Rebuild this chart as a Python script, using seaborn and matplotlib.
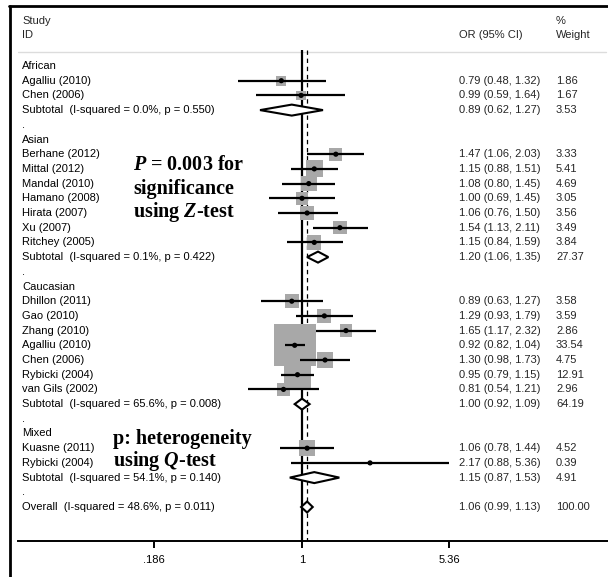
import numpy as np
import pandas as pd
import matplotlib
matplotlib.use("Agg")
import matplotlib.pyplot as plt
from matplotlib.lines import Line2D
from matplotlib.patches import Polygon
from matplotlib.ticker import NullLocator
import seaborn as sns

# ---------------- data ----------------
groups = ["African", "Asian", "Caucasian", "Mixed"]
study_names = ["Agalliu (2010)", "Chen (2006)",
               "Berhane (2012)", "Mittal (2012)", "Mandal (2010)", "Hamano (2008)",
               "Hirata (2007)", "Xu (2007)", "Ritchey (2005)",
               "Dhillon (2011)", "Gao (2010)", "Zhang (2010)", "Agalliu (2010)",
               "Chen (2006)", "Rybicki (2004)", "van Gils (2002)",
               "Kuasne (2011)", "Rybicki (2004)"]
study_group = ["African", "African",
               "Asian", "Asian", "Asian", "Asian", "Asian", "Asian", "Asian",
               "Caucasian", "Caucasian", "Caucasian", "Caucasian", "Caucasian",
               "Caucasian", "Caucasian",
               "Mixed", "Mixed"]
study_or = [0.79, 0.99, 1.47, 1.15, 1.08, 1.00, 1.06, 1.54, 1.15,
            0.89, 1.29, 1.65, 0.92, 1.30, 0.95, 0.81, 1.06, 2.17]
study_lo = [0.48, 0.59, 1.06, 0.88, 0.80, 0.69, 0.76, 1.13, 0.84,
            0.63, 0.93, 1.17, 0.82, 0.98, 0.79, 0.54, 0.78, 0.88]
study_hi = [1.32, 1.64, 2.03, 1.51, 1.45, 1.45, 1.50, 2.11, 1.59,
            1.27, 1.79, 2.32, 1.04, 1.73, 1.15, 1.21, 1.44, 5.36]
study_wt = [1.86, 1.67, 3.33, 5.41, 4.69, 3.05, 3.56, 3.49, 3.84,
            3.58, 3.59, 2.86, 33.54, 4.75, 12.91, 2.96, 4.52, 0.39]

sub_labels = ["Subtotal  (I-squared = 0.0%, p = 0.550)",
              "Subtotal  (I-squared = 0.1%, p = 0.422)",
              "Subtotal  (I-squared = 65.6%, p = 0.008)",
              "Subtotal  (I-squared = 54.1%, p = 0.140)"]
sub_or = [0.89, 1.20, 1.00, 1.15]
sub_lo = [0.62, 1.06, 0.92, 0.87]
sub_hi = [1.27, 1.35, 1.09, 1.53]
sub_wt = [3.53, 27.37, 64.19, 4.91]

overall_label = "Overall  (I-squared = 48.6%, p = 0.011)"
overall_or, overall_lo, overall_hi, overall_wt = 1.06, 0.99, 1.13, 100.00

x_ticks = [0.186, 1.0, 5.36]
x_ticklabels = [".186", "1", "5.36"]

# ---------------- style ----------------
sns.set_theme(style="white")
plt.rcParams["font.family"] = ["Liberation Sans", "DejaVu Sans"]
plt.rcParams["mathtext.fontset"] = "custom"
plt.rcParams["mathtext.rm"] = "Liberation Serif:bold"
plt.rcParams["mathtext.it"] = "Liberation Serif:bold:italic"
FS = 8.0

W, H = 608, 577
fig = plt.figure(figsize=(W / 100, H / 100), dpi=100)
fig.patch.set_facecolor("white")

ax_l, ax_r, ax_t, ax_b = 18, 608, 6, 541
ax = fig.add_axes([ax_l / W, 1 - ax_b / H, (ax_r - ax_l) / W, (ax_b - ax_t) / H])
ax.set_facecolor("white")

x1_px, ppl = 302.0, 87.8          # pixel of OR=1, pixels per ln unit
row0_px, row_h = 66.0, 14.7       # first row pixel, row spacing
ax.set_xscale("log")
ax.set_xlim(np.exp((ax_l - x1_px) / ppl), np.exp((ax_r - x1_px) / ppl))
ax.set_ylim((ax_b - row0_px) / row_h, (ax_t - row0_px) / row_h)


def rpx(px):
    return (px - row0_px) / row_h


def fx(px):
    return (px - ax_l) / (ax_r - ax_l)


tr = ax.get_yaxis_transform()

# ---------------- build rows ----------------
rows_txt = []   # (row, label)
st_rows = []
sub_rows = []
r = 0
si = 0
for gi, g in enumerate(groups):
    rows_txt.append((r, g)); r += 1
    while si < len(study_group) and study_group[si] == g:
        st_rows.append(r); rows_txt.append((r, study_names[si])); r += 1; si += 1
    sub_rows.append(r); rows_txt.append((r, sub_labels[gi])); r += 1
    rows_txt.append((r, ".")); r += 1
overall_row = r
rows_txt.append((r, overall_label))

df = pd.DataFrame({"study": study_names, "group": study_group, "or": study_or,
                   "lo": study_lo, "hi": study_hi, "wt": study_wt, "row": st_rows})

# reference lines
top_line = rpx(50)
ylim_b = ax.get_ylim()[0]
ax.vlines(1.0, top_line, ylim_b, color="black", lw=1.6, zorder=1)
ax.vlines(overall_or, top_line, ylim_b, color="black", lw=0.9,
          linestyles=(0, (3.5, 3)), zorder=1)

# weighted squares
side_max_pt = 42 * 72 / 100
sns.scatterplot(data=df, x="or", y="row", size="wt", sizes=(0, side_max_pt ** 2),
                size_norm=(0, max(study_wt)), marker="s", color="#a8a8a8",
                edgecolor="none", linewidth=0, legend=False, ax=ax, zorder=2)

# CIs and point estimates
ax.hlines(df["row"], df["lo"], df["hi"], color="black", lw=1.6, zorder=3)
sns.scatterplot(data=df, x="or", y="row", s=14, color="black", edgecolor="none",
                legend=False, ax=ax, zorder=4)

# diamonds
dh = 5.5 / row_h
for rr, e, lo, hi in list(zip(sub_rows, sub_or, sub_lo, sub_hi)) + \
        [(overall_row, overall_or, overall_lo, overall_hi)]:
    ax.add_patch(Polygon([(lo, rr), (e, rr - dh), (hi, rr), (e, rr + dh)],
                         closed=True, facecolor="white", edgecolor="black",
                         lw=1.5, zorder=5))

# left labels
for rr, lab in rows_txt:
    ax.text(fx(22), rr, lab, transform=tr, ha="left", va="center",
            fontsize=FS, color="black")

# right columns
def fmt(e, lo, hi):
    return f"{e:.2f} ({lo:.2f}, {hi:.2f})"

val_rows = list(zip(st_rows, study_or, study_lo, study_hi, study_wt)) + \
    list(zip(sub_rows, sub_or, sub_lo, sub_hi, sub_wt)) + \
    [(overall_row, overall_or, overall_lo, overall_hi, overall_wt)]
for rr, e, lo, hi, w in val_rows:
    ax.text(fx(459), rr, fmt(e, lo, hi), transform=tr, ha="left", va="center",
            fontsize=FS)
    ax.text(fx(556), rr, f"{w:.2f}", transform=tr, ha="left", va="center",
            fontsize=FS)

# header
ax.text(fx(22), rpx(21), "Study", transform=tr, ha="left", va="center", fontsize=FS)
ax.text(fx(22), rpx(35), "ID", transform=tr, ha="left", va="center", fontsize=FS)
ax.text(fx(459), rpx(35), "OR (95% CI)", transform=tr, ha="left", va="center", fontsize=FS)
ax.text(fx(556), rpx(21), "%", transform=tr, ha="left", va="center", fontsize=FS)
ax.text(fx(556), rpx(35), "Weight", transform=tr, ha="left", va="center", fontsize=FS)
ax.axhline(rpx(52), xmin=0, xmax=fx(606), color="#dcdcdc", lw=1.0, zorder=0)

# big annotations
big = dict(fontsize=14.5, fontfamily="Liberation Serif", fontweight="bold",
           ha="left", va="center", transform=tr, color="black", zorder=6)
ax.text(fx(133), 6.75, r"$P$ = 0.003 for", **big)
ax.text(fx(133), 8.35, "significance", **big)
ax.text(fx(133), 9.95, r"using $Z$-test", **big)
ax.text(fx(113), 25.4, "p: heterogeneity", **big)
ax.text(fx(113), 26.9, r"using $Q$-test", **big)

# axis styling
for s in ["left", "right", "top"]:
    ax.spines[s].set_visible(False)
ax.spines["bottom"].set_color("black")
ax.spines["bottom"].set_linewidth(1.4)
ax.set_xticks(x_ticks)
ax.set_xticklabels(x_ticklabels)
ax.xaxis.set_minor_locator(NullLocator())
ax.set_yticks([])
ax.tick_params(axis="x", direction="out", length=5, width=1.4, pad=5,
               labelsize=FS, colors="black", bottom=True)
ax.set_xlabel("")
ax.set_ylabel("")

# frame lines
fig.add_artist(Line2D([10 / W, 10 / W], [0, 1 - 6 / H], transform=fig.transFigure,
                      color="black", lw=2.0))
fig.add_artist(Line2D([9 / W, 1], [1 - 6 / H, 1 - 6 / H], transform=fig.transFigure,
                      color="black", lw=2.0))

fig.savefig("out.png", dpi=100, facecolor="white")
